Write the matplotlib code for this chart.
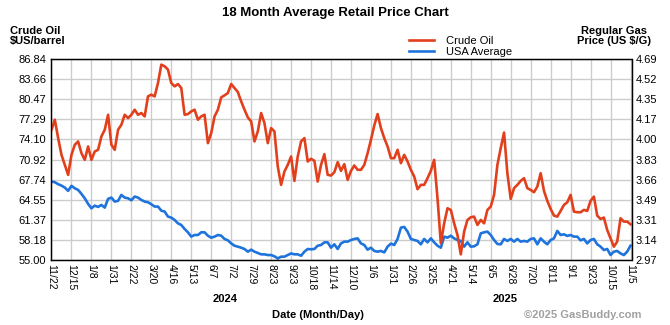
import numpy as np
import matplotlib
matplotlib.use("Agg")
import matplotlib.pyplot as plt
from matplotlib.lines import Line2D

plt.rcParams['font.family'] = ['Liberation Sans', 'DejaVu Sans']

# x axis labels (one per grid column)
date_labels = ['11/22', '12/15', '1/8', '1/31', '2/22', '3/20', '4/16', '5/13', '6/7', '7/2',
               '7/29', '8/23', '9/23', '10/18', '11/14', '12/10', '1/6', '1/31', '2/26', '3/25',
               '4/21', '5/14', '6/5', '6/28', '7/20', '8/11', '9/1', '9/23', '10/15', '11/5']
year_labels = ['2024', '2025']

oil_ticks = ['55.00', '58.18', '61.37', '64.55', '67.74', '70.92', '74.10', '77.29', '80.47', '83.66', '86.84']
gas_ticks = ['2.97', '3.14', '3.31', '3.49', '3.66', '3.83', '4.00', '4.17', '4.35', '4.52', '4.69']

# crude oil, $US/barrel (6 samples per date column)
crude_oil = [
    75.64, 77.24, 74.32, 71.66, 70.07, 68.48, 71.66, 73.26, 73.79, 71.93,
    70.87, 72.99, 70.87, 72.19, 72.46, 74.58, 75.64, 78.03, 73.26, 72.46,
    75.64, 76.44, 78.03, 77.50, 78.03, 78.83, 78.03, 78.30, 77.77, 80.95,
    81.22, 80.95, 83.07, 85.99, 85.73, 85.20, 83.07, 82.54, 82.91, 82.28,
    78.03, 78.14, 78.56, 78.83, 77.24, 77.77, 78.03, 73.52, 75.11, 77.77,
    78.83, 80.79, 81.11, 81.48, 82.91, 82.28, 81.64, 80.15, 78.83, 77.61,
    76.97, 73.79, 75.38, 78.30, 76.70, 73.52, 75.91, 75.38, 69.81, 66.89,
    69.01, 70.07, 71.40, 67.52, 71.40, 73.79, 74.32, 70.60, 71.03, 70.71,
    67.42, 70.07, 71.77, 68.48, 68.37, 68.90, 70.50, 69.12, 70.18, 67.68,
    69.12, 69.97, 69.28, 69.28, 70.07, 71.93, 74.05, 76.33, 78.14, 75.91,
    74.32, 72.99, 71.13, 71.13, 72.46, 70.34, 71.66, 70.60, 69.28, 68.21,
    66.20, 66.89, 66.89, 67.95, 69.12, 70.87, 64.76, 57.60, 60.78, 63.17,
    62.91, 60.78, 58.93, 55.85, 59.46, 61.32, 61.74, 61.85, 60.52, 61.32,
    60.78, 62.91, 63.44, 65.30, 70.07, 72.72, 75.20, 68.74, 64.66, 66.36,
    66.89, 67.52, 67.95, 66.36, 66.09, 65.72, 66.62, 68.74, 65.93, 64.34,
    63.07, 62.00, 61.85, 62.75, 63.70, 64.13, 65.30, 62.64, 62.54, 62.54,
    62.91, 62.75, 64.34, 65.03, 62.00, 61.47, 61.69, 59.72, 58.40, 57.07,
    57.87, 61.58, 61.05, 61.05, 60.63,
]

# USA average regular gas, US $/G
usa_avg = [
    3.641, 3.635, 3.618, 3.606, 3.589, 3.561, 3.604, 3.583, 3.569, 3.535,
    3.497, 3.449, 3.411, 3.434, 3.423, 3.440, 3.417, 3.492, 3.503, 3.469,
    3.475, 3.526, 3.503, 3.497, 3.480, 3.512, 3.503, 3.483, 3.469, 3.463,
    3.446, 3.426, 3.426, 3.391, 3.383, 3.340, 3.331, 3.311, 3.282, 3.268,
    3.234, 3.205, 3.168, 3.182, 3.182, 3.205, 3.205, 3.176, 3.159, 3.168,
    3.182, 3.176, 3.148, 3.136, 3.110, 3.090, 3.082, 3.073, 3.062, 3.039,
    3.056, 3.039, 3.027, 3.016, 3.016, 3.010, 3.010, 2.999, 2.981, 2.996,
    2.996, 3.010, 3.024, 3.016, 3.016, 3.004, 3.039, 3.062, 3.059, 3.062,
    3.090, 3.096, 3.119, 3.119, 3.073, 3.102, 3.062, 3.110, 3.125, 3.125,
    3.139, 3.148, 3.153, 3.110, 3.096, 3.056, 3.073, 3.045, 3.039, 3.045,
    3.033, 3.082, 3.108, 3.096, 3.148, 3.245, 3.251, 3.211, 3.148, 3.139,
    3.131, 3.102, 3.148, 3.119, 3.153, 3.119, 3.090, 3.073, 3.168, 3.159,
    3.176, 3.153, 3.139, 3.131, 3.082, 3.119, 3.082, 3.085, 3.102, 3.196,
    3.205, 3.211, 3.182, 3.139, 3.105, 3.102, 3.148, 3.131, 3.148, 3.125,
    3.148, 3.125, 3.131, 3.125, 3.148, 3.153, 3.102, 3.153, 3.125, 3.102,
    3.139, 3.153, 3.217, 3.182, 3.188, 3.174, 3.182, 3.168, 3.168, 3.136,
    3.148, 3.110, 3.139, 3.148, 3.102, 3.082, 3.053, 3.062, 3.010, 3.039,
    3.045, 3.024, 3.010, 3.039, 3.090,
]

RED = '#e2401c'
BLUE = '#1e74dc'
W, H = 670, 325

x = np.arange(len(crude_oil)) / 6.0

fig = plt.figure(figsize=(W / 100, H / 100), dpi=100)
fig.patch.set_facecolor('white')

ax_oil = fig.add_axes([50.5 / W, 65.3 / H, 581 / W, 200.4 / H])
ax_gas = ax_oil.twinx()

# oil axis drawn above the gas axis, grid lives on the gas axis (below both lines)
ax_oil.set_zorder(2)
ax_gas.set_zorder(1)
ax_oil.patch.set_visible(False)
ax_gas.patch.set_visible(True)
ax_gas.patch.set_facecolor('white')
ax_gas.xaxis.set_visible(True)

ax_gas.plot(x, usa_avg, color=BLUE, lw=1.9, solid_joinstyle='round')
ax_oil.plot(x, crude_oil, color=RED, lw=1.9, solid_joinstyle='round')

ax_oil.set_xlim(-0.05, 29.05)
ax_oil.set_ylim(55.0, 86.84)
ax_gas.set_ylim(2.97, 4.69)

ax_oil.set_xticks(range(len(date_labels)))
ax_oil.set_xticklabels(date_labels, rotation=-90, fontsize=7.5)
ax_oil.set_yticks(np.linspace(55.0, 86.84, len(oil_ticks)))
ax_oil.set_yticklabels(oil_ticks, fontsize=8)
ax_gas.set_yticks(np.linspace(2.97, 4.69, len(gas_ticks)))
ax_gas.set_yticklabels(gas_ticks, fontsize=8)
ax_gas.set_xticks(range(len(date_labels)))
ax_gas.tick_params(axis='x', labelbottom=False, length=0)

ax_oil.tick_params(length=0, pad=3)
ax_gas.tick_params(axis='y', length=0, pad=3)

ax_gas.grid(True, color='#cccccc', lw=1.0)
ax_oil.grid(False)

for a in (ax_oil, ax_gas):
    for s in a.spines.values():
        s.set_color('black')
        s.set_linewidth(0.9)


def px(xp, yp):
    return xp / W, 1 - yp / H


fig.text(*px(335, 13), '18 Month Average Retail Price Chart', ha='center', va='center',
         fontsize=9.5, fontweight='bold')
fig.text(*px(10, 36), 'Crude Oil\n$US/barrel', ha='left', va='center',
         fontsize=8, fontweight='bold', linespacing=1.1)
fig.text(*px(614, 36), 'Regular Gas\nPrice (US $/G)', ha='center', va='center',
         fontsize=8, fontweight='bold', linespacing=1.1)

handles = [Line2D([], [], color=RED, lw=1.9), Line2D([], [], color=BLUE, lw=1.9)]
fig.legend(handles, ['Crude Oil', 'USA Average'], loc='upper left',
           bbox_to_anchor=px(403, 30), frameon=False, fontsize=8,
           handlelength=2.3, handletextpad=1.1, labelspacing=0.15, borderpad=0)

fig.text(*px(225, 299), year_labels[0], ha='center', va='center', fontsize=8, fontweight='bold')
fig.text(*px(505, 299), year_labels[1], ha='center', va='center', fontsize=8, fontweight='bold')
fig.text(*px(318, 315), 'Date (Month/Day)', ha='center', va='center', fontsize=8, fontweight='bold')
fig.text(*px(641, 315), '\u00a92025 GasBuddy.com', ha='right', va='center', fontsize=8,
         fontweight='bold', color='#a0a0a0')

fig.savefig('out.png', dpi=100)
